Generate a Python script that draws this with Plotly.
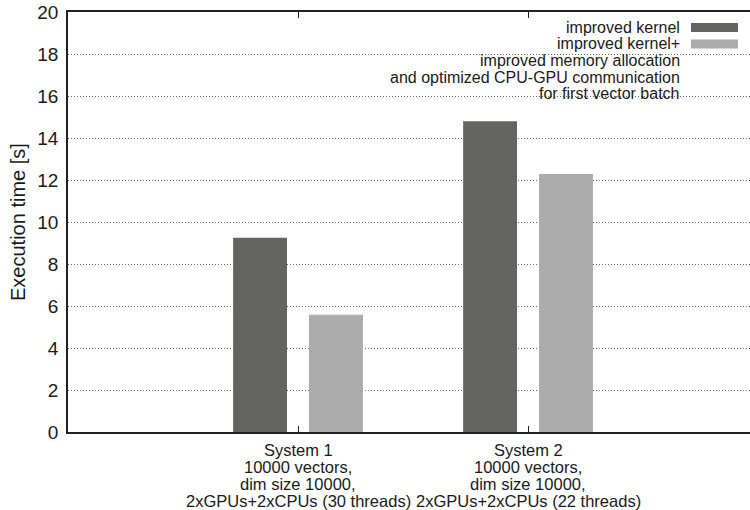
import plotly.graph_objects as go

cat_pos = [1, 2]
tick_labels = [
    ["System 1", "10000 vectors,", "dim size 10000,", "2xGPUs+2xCPUs (30 threads)"],
    ["System 2", "10000 vectors,", "dim size 10000,", "2xGPUs+2xCPUs (22 threads)"],
]
series_names = ["improved kernel", "improved kernel+"]
legend_lines = [
    ["improved kernel"],
    ["improved kernel+", "improved memory allocation",
     "and optimized CPU-GPU communication", "for first vector batch"],
]
kernel = [9.25, 14.8]
kernel_plus = [5.58, 12.28]
colors = ["#646462", "#abacab"]

FONT = "Liberation Sans, Arial, Helvetica, sans-serif"
TXT = "#1a1a1a"

fig = go.Figure()
for name, vals, col in zip(series_names, [kernel, kernel_plus], colors):
    fig.add_trace(go.Bar(x=cat_pos, y=vals, name=name, marker_color=col,
                         marker_line_width=0, showlegend=False))

L, R, T, B = 68, 750, 12, 432
W, H = R - L, B - T
def px(x):
    return (x - L) / W
def py(y):
    return (B - y) / H

# manual legend (gnuplot style: text right-aligned, swatch on right)
line_y = [27.5, 44, 60.5, 77, 93.5]
k = 0
for i, lines in enumerate(legend_lines):
    for j, txt in enumerate(lines):
        fig.add_annotation(x=px(681), y=py(line_y[k]), xref="paper", yref="paper",
                           text=txt, showarrow=False, xanchor="right", yanchor="middle",
                           borderpad=0, font=dict(family=FONT, size=16, color=TXT))
        if j == 0:
            fig.add_shape(type="rect", xref="paper", yref="paper",
                          x0=px(691), x1=px(738), y0=py(line_y[k] - 4.5), y1=py(line_y[k] + 4.5),
                          fillcolor=colors[i], line_width=0)
        k += 1

# multi-line category labels with tight gnuplot-like line spacing
label_y = [450, 467, 484, 501]
for xc, lines in zip(cat_pos, tick_labels):
    for yy, txt in zip(label_y, lines):
        fig.add_annotation(x=xc, y=py(yy), xref="x", yref="paper", text=txt,
                           showarrow=False, xanchor="center", yanchor="middle",
                           borderpad=0, font=dict(family=FONT, size=16.5, color=TXT))

# y-axis title
fig.add_annotation(x=px(18), y=0.5, xref="paper", yref="paper", text="Execution time [s]",
                   textangle=-90, showarrow=False, xanchor="center", yanchor="middle",
                   borderpad=0, font=dict(family=FONT, size=20, color=TXT))

fig.update_layout(
    width=750, height=510,
    margin=dict(l=L, r=0, t=T, b=510 - B),
    plot_bgcolor="white", paper_bgcolor="white",
    barmode="group", bargap=0.34, bargroupgap=0.29,
    font=dict(family=FONT, color=TXT),
    xaxis=dict(range=[0, 2.965], tickvals=cat_pos, showticklabels=False,
               ticks="inside", ticklen=6, tickcolor="#222", mirror="ticks",
               showline=True, linecolor="#222", linewidth=1.5, showgrid=False,
               zeroline=False, automargin=False),
    yaxis=dict(range=[0, 20], dtick=2, showline=True, linecolor="#222", linewidth=1.5,
               showgrid=True, gridcolor="#666", griddash="1px,2px", gridwidth=1,
               ticks="", tickfont=dict(size=19, color=TXT), zeroline=False,
               ticklabelstandoff=4, automargin=False),
)
fig.write_html("out.html", config={"displayModeBar": False},
               post_script="document.body.style.margin='0';document.body.style.overflow='hidden';")
